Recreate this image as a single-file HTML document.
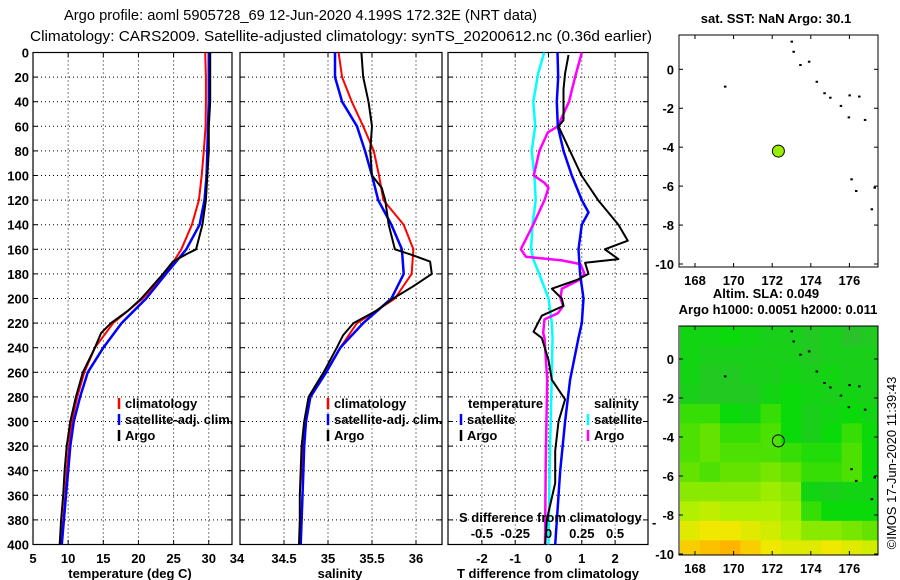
<!DOCTYPE html>
<html><head><meta charset="utf-8"><style>
html,body{margin:0;padding:0;background:#fff;}
svg{display:block;font-family:"Liberation Sans",sans-serif;}
.t{font-size:13px;font-weight:bold;fill:#000;}
.ttl{font-size:15px;fill:#000;}
</style></head><body>
<svg id="chart" width="900" height="580" viewBox="0 0 900 580" xmlns="http://www.w3.org/2000/svg">
<text class="ttl" x="64" y="20" textLength="473" lengthAdjust="spacingAndGlyphs">Argo profile: aoml 5905728_69 12-Jun-2020 4.199S 172.32E (NRT data)</text>
<text class="ttl" x="30" y="41" textLength="622" lengthAdjust="spacingAndGlyphs">Climatology: CARS2009. Satellite-adjusted climatology: synTS_20200612.nc (0.36d earlier)</text>
<g id="g"></g>
</svg>
<script>
// ---------- data ----------
const climDepth=[0,20,40,60,80,100,120,140,160,180,200,220,240,260,280,300,320,340,360,380,400];
const tempClim=[29.5,29.6,29.6,29.55,29.3,29.0,28.6,27.6,26.1,23.9,20.6,16.4,13.8,12.3,11.3,10.5,10.1,9.8,9.6,9.3,9.0];
const tempSat=[30.0,30.0,30.0,29.9,29.8,29.7,29.4,28.7,26.8,23.9,21.1,17.6,15.0,12.8,11.7,10.8,10.3,10.0,9.7,9.4,9.1];
const argoTDepth=[0,20,40,60,80,100,120,140,160,164,170,180,200,210,220,228,240,260,280,300,320,340,360,380,400];
const tempArgo=[30.2,30.2,30.2,30.0,30.0,29.8,29.6,29.1,28.2,26.8,24.9,23.5,20.4,18.5,16.1,14.7,13.8,12.1,11.1,10.3,9.8,9.5,9.3,9.0,8.8];
const salClim=[35.12,35.16,35.27,35.40,35.52,35.58,35.63,35.86,35.97,35.95,35.76,35.33,35.14,34.97,34.80,34.74,34.72,34.71,34.71,34.70,34.69];
const salSat=[35.08,35.08,35.16,35.33,35.42,35.50,35.57,35.72,35.84,35.86,35.72,35.40,35.14,34.98,34.80,34.75,34.73,34.72,34.71,34.70,34.69];
const argoSDepth=[0,20,40,60,80,100,110,120,140,160,165,170,180,190,200,210,220,230,240,260,280,300,320,340,360,380,400];
const salArgo=[35.38,35.40,35.46,35.50,35.48,35.50,35.61,35.65,35.69,35.76,35.97,36.16,36.18,35.97,35.74,35.55,35.29,35.17,35.10,34.95,34.78,34.73,34.70,34.69,34.68,34.68,34.67];
const dTSatDepth=[0,20,40,60,80,100,120,130,140,160,180,200,220,232,266,300,340,400];
const dTSat=[0.27,0.29,0.25,0.28,0.45,0.70,1.0,1.2,1.0,0.9,0.95,1.05,1.0,0.9,0.65,0.5,0.35,0.2];
const dTArgoDepth=[2,17,30,55,60,80,100,120,140,153,160,168,171,180,185,192,200,206,214,227,232,250,266,282,300,324,350,380,400];
const dTArgo=[0.60,0.50,0.45,0.45,0.30,0.645,0.99,1.49,2.1,2.38,1.69,2.1,1.1,1.2,0.85,0.1,0.4,0.45,-0.2,-0.45,-0.2,0.0,0.1,0.5,0.3,0.2,0.2,-0.05,-0.1];
const dSSatDepth=[0,17,40,60,80,100,120,140,160,168,180,200,220,232,266,330,400];
const dSSat=[-0.032,-0.077,-0.114,-0.1,-0.126,-0.106,-0.096,-0.12,-0.131,-0.114,-0.07,0.0,0.025,0.03,0.024,0.01,0.0];
const dSArgoDepth=[0,20,40,60,65,80,100,106,110,120,140,160,166,169,172,180,185,192,200,206,212,217,228,232,266,330,400];
const dSArgo=[0.25,0.2,0.154,0.07,-0.005,-0.068,-0.11,-0.03,0.0,-0.03,-0.115,-0.208,-0.17,0.1,0.24,0.27,0.23,0.1,0.09,0.11,0.07,-0.03,-0.04,-0.03,-0.01,-0.02,-0.026];
const depthTicks=[0,20,40,60,80,100,120,140,160,180,200,220,240,260,280,300,320,340,360,380,400];
const tempTicks=[5,10,15,20,25,30];
const salTicks=[34.5,35,35.5,36];
const salTickLabels=["34.5","35","35.5","36"];
const dTTicks=[-2,-1,0,1,2];
const dSTicks=[-0.5,-0.25,0,0.25,0.5];
const dSTickLabels=["-0.5","-0.25","0","0.25","0.5"];
const lonTicks=[168,170,172,174,176];
const latTicks=[0,-2,-4,-6,-8,-10];
const floatLon=172.32, floatLat=-4.2;
const islandLon=[173.0,173.1,173.45,173.9,174.3,174.7,175.0,175.55,176.0,176.5,175.96,176.8,169.55,176.1,176.34,177.3,177.15];
const islandLat=[1.42,0.9,0.22,0.39,-0.64,-1.23,-1.46,-1.88,-1.34,-1.4,-2.47,-2.6,-0.89,-5.65,-6.25,-6.08,-7.19];
const slaLon0=167.2, slaLat0=1.7;
const slaGrid=[
[0.15,0.15,0.2,0.15,0.1,0.1,0.05,0.1,0.0,0.05],
[0.15,0.1,0.1,0.1,0.1,0.1,0.05,0.1,0.1,0.1],
[0.15,0.05,0.05,0.1,0.1,0.15,0.1,0.15,0.1,0.1],
[0.1,0.05,0.05,0.05,0.15,0.2,0.15,0.1,0.15,0.1],
[0.3,0.3,0.2,0.15,0.3,0.2,0.1,0.15,0.2,0.15],
[0.35,0.4,0.3,0.3,0.35,0.2,0.1,0.2,0.3,0.2],
[0.35,0.4,0.35,0.35,0.35,0.3,0.25,0.25,0.35,0.2],
[0.4,0.35,0.4,0.4,0.45,0.4,0.3,0.3,0.35,0.2],
[0.5,0.5,0.5,0.5,0.55,0.5,0.15,0.1,0.15,0.15],
[0.6,0.65,0.6,0.6,0.6,0.55,0.3,0.2,0.2,0.2],
[0.75,0.8,0.8,0.75,0.7,0.6,0.5,0.5,0.45,0.4],
[0.9,0.95,1.0,0.9,0.8,0.75,0.75,0.8,0.75,0.7]];

// ---------- axes ----------
const NS="http://www.w3.org/2000/svg";
const G=document.getElementById('g');
const yD=d=>52.5+d*1.23;
const xT=t=>33+(t-5)*7.03;
const xS=s=>240+(s-34)*88;
const xdT=v=>548.5+v*33.3;
const xdS=v=>548.5+v*133.2;
const mLon=l=>695+(l-168)*19.3;
const m1Lat=l=>69.3-l*19.47;
const m2Lat=l=>359-l*19.5;
function el(tag,attrs,parent){const e=document.createElementNS(NS,tag);for(const k in attrs)e.setAttribute(k,attrs[k]);(parent||G).appendChild(e);return e;}
function txt(x,y,s,anchor,parent){const e=el('text',{x:x,y:y,class:'t','text-anchor':anchor||'start'},parent);e.textContent=s;return e;}

const defs=el('defs',{});
[['c1',33,232],['c2',240,442],['c3',448,648]].forEach(c=>{const cp=el('clipPath',{id:c[0]},defs);el('rect',{x:c[1],y:52.5,width:c[2]-c[1],height:492},cp);});
const cpm=el('clipPath',{id:'cm2'},defs);el('rect',{x:680,y:326,width:198,height:229},cpm);

function panel(name,x0,x1,vt,vx){
  const g=el('g',{});
  
  
  depthTicks.forEach(d=>{
    const ln=el('line',{x1:x0,x2:x1,y1:yD(d),y2:yD(d),stroke:'#000','stroke-width':1,'stroke-dasharray':'1,3'},g);
    
    
    el('line',{x1:x0,x2:x0+5,y1:yD(d),y2:yD(d),stroke:'#000'},g);
    el('line',{x1:x1-5,x2:x1,y1:yD(d),y2:yD(d),stroke:'#000'},g);
  });
  vt.forEach(v=>{
    const x=vx(v);
    const ln=el('line',{x1:x,x2:x,y1:52.5,y2:544.5,stroke:'#000','stroke-dasharray':'1,3'},g);
    
    
    el('line',{x1:x,x2:x,y1:52.5,y2:57,stroke:'#000'},g);
    el('line',{x1:x,x2:x,y1:540,y2:544.5,stroke:'#000'},g);
  });
  const fr=el('rect',{x:x0,y:52.5,width:x1-x0,height:492,fill:'none',stroke:'#000','stroke-width':1.2},g);
  
  
  return g;
}
function line(name,depths,vals,xf,color,w,clip){
  let d='';
  depths.forEach((dp,i)=>{d+=(i?'L':'M')+xf(vals[i]).toFixed(1)+','+yD(dp).toFixed(1);});
  const p=el('path',{d:d,fill:'none',stroke:color,'stroke-width':w,'stroke-linejoin':'round','clip-path':'url(#'+clip+')'});
  
  
}
function legendItem(x,y,color,label,name){
  if(color){const m=el('line',{x1:x,x2:x,y1:y-10,y2:y+1,stroke:color,'stroke-width':2.5});}
  const t=txt(x+6,y,label);
}

// panel 1
panel('temperature-panel',33,232,[10,15,20,25,30],xT);
depthTicks.forEach(d=>{const t=txt(29,yD(d)+5,String(d),'end');});
tempTicks.forEach(v=>{const t=txt(xT(v),563,String(v),'middle');});
line('temp-climatology-line',climDepth,tempClim,xT,'#f00',2,'c1');
line('temp-satellite-line',climDepth,tempSat,xT,'#00f',2.5,'c1');
line('temp-argo-line',argoTDepth,tempArgo,xT,'#000',2,'c1');
legendItem(119,408,'#f00','climatology','legend-climatology');
legendItem(119,424,'#00f','satellite-adj. clim.','legend-satellite');
legendItem(119,440,'#000','Argo','legend-argo');
{const t=txt(130,578,'temperature (deg C)','middle');}

// panel 2
panel('salinity-panel',240,442,salTicks,xS);
{const t=txt(237,563,'34','middle');}
salTicks.forEach((v,i)=>{const t=txt(xS(v),563,salTickLabels[i],'middle');});
line('sal-climatology-line',climDepth,salClim,xS,'#f00',2,'c2');
line('sal-satellite-line',climDepth,salSat,xS,'#00f',2.5,'c2');
line('sal-argo-line',argoSDepth,salArgo,xS,'#000',2,'c2');
legendItem(328,408,'#f00','climatology','legend-climatology-2');
legendItem(328,424,'#00f','satellite-adj. clim.','legend-satellite-2');
legendItem(328,440,'#000','Argo','legend-argo-2');
{const t=txt(340,578,'salinity','middle');}

// panel 3
panel('difference-panel',448,648,dTTicks,xdT);
dTTicks.forEach(v=>{const t=txt(xdT(v),563,String(v),'middle');});
{const t=txt(652,527,'-');}
line('dS-satellite-line',dSSatDepth,dSSat,xdS,'#0ff',2.5,'c3');
line('dS-argo-line',dSArgoDepth,dSArgo,xdS,'#f0f',2.5,'c3');
line('dT-satellite-line',dTSatDepth,dTSat,xdT,'#00f',2.5,'c3');
line('dT-argo-line',dTArgoDepth,dTArgo,xdT,'#000',2,'c3');
legendItem(462,408,null,'temperature','legend-temperature-heading');
legendItem(461,424,'#00f','satellite','legend-dT-satellite');
legendItem(461,440,'#000','Argo','legend-dT-argo');
legendItem(588,408,null,'salinity','legend-salinity-heading');
legendItem(588,424,'#0ff','satellite','legend-dS-satellite');
legendItem(588,440,'#f0f','Argo','legend-dS-argo');
{const t=txt(459,522,'S difference from climatology');}
dSTicks.forEach((v,i)=>{const t=txt(xdS(v),538,dSTickLabels[i],'middle');});
{const t=txt(548,578,'T difference from climatology','middle');}

// ---------- maps ----------
function mapAxes(name,top,bot,latF){
  const g=el('g',{});
  
  
  lonTicks.forEach(l=>{
    const x=mLon(l);
    el('line',{x1:x,x2:x,y1:top,y2:top+4,stroke:'#000'},g);
    el('line',{x1:x,x2:x,y1:bot-4,y2:bot,stroke:'#000'},g);
    const t=txt(x,bot+18,String(l),'middle',g);
  });
  latTicks.forEach(l=>{
    const y=latF(l);
    el('line',{x1:679,x2:683,y1:y,y2:y,stroke:'#000'},g);
    el('line',{x1:874,x2:878,y1:y,y2:y,stroke:'#000'},g);
    const t=txt(674,y+5,String(l),'end',g);
  });
  const fr=el('rect',{x:679,y:top,width:199,height:bot-top,fill:'none',stroke:'#000'},g);
  
  
}
function islands(latF,clip){
  islandLon.forEach((l,i)=>{
    const r=el('rect',{x:mLon(l)-1,y:latF(islandLat[i])-1,width:2.5,height:2,fill:'#000','clip-path':clip||''});
    
    
  });
}
// map 1 (SST)
islands(m1Lat);
mapAxes('sst-map',35,267,m1Lat);
{const c=el('circle',{cx:mLon(floatLon),cy:m1Lat(floatLat),r:6,fill:'#99ee00',stroke:'#000','stroke-width':1});}
{const t=txt(776,23,'sat. SST: NaN Argo: 30.1','middle');}
{const t=txt(766,298,'Altim. SLA: 0.049','middle');}
{const t=txt(778,314,'Argo h1000: 0.0051 h2000: 0.011','middle');}

// map 2 (SLA heatmap)
const stops=[[0,[40,195,40]],[0.2,[10,218,10]],[0.4,[100,226,0]],[0.6,[176,240,0]],[0.8,[240,232,0]],[1,[255,180,0]]];
function col(v){for(let i=1;i<stops.length;i++){if(v<=stops[i][0]){const a=stops[i-1],b=stops[i],f=(v-a[0])/(b[0]-a[0]);return 'rgb('+a[1].map((c,k)=>Math.round(c+(b[1][k]-c)*f)).join(',')+')';}}return 'rgb(255,180,0)';}
slaGrid.forEach((row,r)=>{row.forEach((v,c)=>{
  const x0=mLon(slaLon0+c*1.05), x1=mLon(slaLon0+(c+1)*1.05);
  const y0=m2Lat(slaLat0-r), y1=m2Lat(slaLat0-r-1);
  const cell=el('rect',{x:x0,y:y0,width:x1-x0+0.5,height:y1-y0+0.5,fill:col(v),'clip-path':'url(#cm2)'});
  
  
});});
islands(m2Lat,'url(#cm2)');
mapAxes('sla-map',326,555,m2Lat);
{const c=el('circle',{cx:mLon(floatLon),cy:m2Lat(floatLat),r:6,fill:'none',stroke:'#000','stroke-width':1});}
{const t=el('text',{x:0,y:0,'font-size':'13','font-family':'Liberation Sans, sans-serif',fill:'#000','text-anchor':'middle',transform:'translate(896,463) rotate(-90)'});t.textContent='©IMOS 17-Jun-2020 11:39:43';}
</script>
</body></html>
